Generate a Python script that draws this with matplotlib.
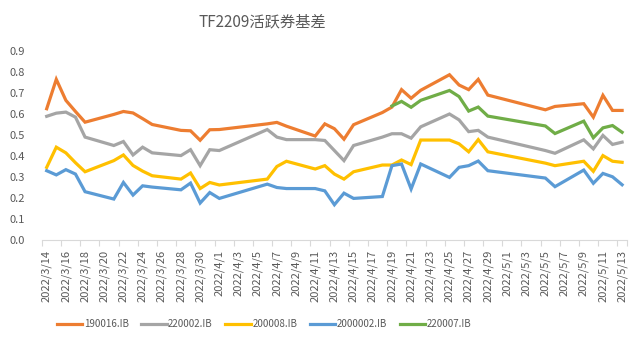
import matplotlib
matplotlib.use("Agg")
import matplotlib.pyplot as plt
import matplotlib.dates as mdates
import numpy as np
import pandas as pd
from matplotlib.ticker import FixedLocator, FuncFormatter

plt.rcParams['font.family'] = ['Noto Sans CJK SC', 'DejaVu Sans']

dates = [
    "2022-03-14", "2022-03-15", "2022-03-16", "2022-03-17", "2022-03-18",
    "2022-03-21", "2022-03-22", "2022-03-23", "2022-03-24", "2022-03-25",
    "2022-03-28", "2022-03-29", "2022-03-30", "2022-03-31", "2022-04-01",
    "2022-04-06", "2022-04-07", "2022-04-08",
    "2022-04-11", "2022-04-12", "2022-04-13", "2022-04-14", "2022-04-15",
    "2022-04-18", "2022-04-19", "2022-04-20", "2022-04-21", "2022-04-22",
    "2022-04-25", "2022-04-26", "2022-04-27", "2022-04-28", "2022-04-29",
    "2022-05-05", "2022-05-06",
    "2022-05-09", "2022-05-10", "2022-05-11", "2022-05-12", "2022-05-13",
]

b190016 = [0.625, 0.765, 0.665, 0.612, 0.561,
           0.598, 0.612, 0.605, 0.578, 0.550,
           0.522, 0.520, 0.475, 0.525, 0.526,
           0.553, 0.560, 0.542,
           0.495, 0.553, 0.530, 0.480, 0.549,
           0.607, 0.633, 0.716, 0.675, 0.713,
           0.787, 0.738, 0.716, 0.765, 0.690,
           0.620, 0.636,
           0.649, 0.585, 0.689, 0.617, 0.617]

b220002 = [0.589, 0.604, 0.609, 0.585, 0.490,
           0.450, 0.469, 0.405, 0.442, 0.415,
           0.402, 0.430, 0.354, 0.430, 0.426,
           0.526, 0.490, 0.478,
           0.478, 0.474, 0.426, 0.378, 0.450,
           0.490, 0.506, 0.506, 0.485, 0.539,
           0.600, 0.572, 0.516, 0.522, 0.490,
           0.426, 0.413,
           0.477, 0.434, 0.498, 0.455, 0.466]

b200008 = [0.346, 0.442, 0.415, 0.368, 0.325,
           0.378, 0.405, 0.355, 0.328, 0.306,
           0.290, 0.319, 0.245, 0.274, 0.262,
           0.290, 0.350, 0.375,
           0.338, 0.354, 0.314, 0.290, 0.325,
           0.357, 0.357, 0.381, 0.359, 0.476,
           0.476, 0.458, 0.420, 0.478, 0.420,
           0.366, 0.354,
           0.375, 0.327, 0.402, 0.375, 0.370]

b2000002 = [0.330, 0.310, 0.335, 0.314, 0.230,
            0.195, 0.274, 0.214, 0.258, 0.252,
            0.239, 0.271, 0.176, 0.226, 0.198,
            0.266, 0.250, 0.245,
            0.245, 0.234, 0.168, 0.223, 0.198,
            0.207, 0.354, 0.362, 0.243, 0.362,
            0.298, 0.346, 0.354, 0.376, 0.330,
            0.295, 0.254,
            0.333, 0.270, 0.317, 0.301, 0.263]

nan = np.nan
b220007 = [nan, nan, nan, nan, nan,
           nan, nan, nan, nan, nan,
           nan, nan, nan, nan, nan,
           nan, nan, nan,
           nan, nan, nan, nan, nan,
           nan, 0.638, 0.660, 0.632, 0.665,
           0.712, 0.683, 0.614, 0.633, 0.590,
           0.543, 0.507,
           0.566, 0.487, 0.534, 0.545, 0.513]

series_names = ["190016.IB", "220002.IB", "200008.IB", "2000002.IB", "220007.IB"]
series_values = [b190016, b220002, b200008, b2000002, b220007]
series_colors = ["#ED7D31", "#A5A5A5", "#FFC000", "#5B9BD5", "#70AD47"]

x = pd.to_datetime(dates)

fig = plt.figure(figsize=(6.4, 3.42), dpi=100)
ax = fig.add_axes([41.9 / 640, 1 - 240 / 342, (626.9 - 41.9) / 640, (240 - 51) / 342])

for name, vals, col in zip(series_names, series_values, series_colors):
    ax.plot(x, vals, color=col, lw=2.3, label=name, solid_joinstyle="miter")

start = pd.Timestamp("2022-03-14")
end = pd.Timestamp("2022-05-13")
half = pd.Timedelta(hours=12)
ax.set_xlim(start - half, end + half)
ax.set_ylim(0, 0.9)

label_days = pd.date_range(start, end, freq="2D")
ax.xaxis.set_major_locator(FixedLocator(mdates.date2num(label_days)))
ax.xaxis.set_major_formatter(FuncFormatter(
    lambda v, p: (lambda d: f"{d.year}/{d.month}/{d.day}")(mdates.num2date(v))))
ax.xaxis.set_minor_locator(FixedLocator(mdates.date2num(list(label_days - half) + [end + half])))
ax.tick_params(axis="x", which="major", length=0, pad=7, labelsize=8,
               labelrotation=90, colors="#595959")
ax.tick_params(axis="x", which="minor", length=4, color="#D9D9D9", width=0.8)

ax.set_yticks(np.round(np.arange(0, 0.91, 0.1), 1))
ax.yaxis.set_major_formatter(FuncFormatter(lambda v, p: f"{v:.1f}"))
ax.tick_params(axis="y", length=0, pad=12, labelsize=8, colors="#595959")

for s in ["top", "right", "left"]:
    ax.spines[s].set_visible(False)
ax.spines["bottom"].set_color("#D9D9D9")
ax.spines["bottom"].set_linewidth(0.8)

fig.text(262 / 640, 1 - 22 / 342, "TF2209活跃券基差", ha="center", va="center",
         fontsize=11, color="#595959")

handles, labels = ax.get_legend_handles_labels()
fig.legend(handles, labels, loc="center", bbox_to_anchor=(264 / 640, 1 - 324 / 342),
           ncol=5, frameon=False, fontsize=7, handlelength=2.6, handletextpad=0.15,
           columnspacing=1.3, labelcolor="#595959")

fig.savefig("out.png", dpi=100)
